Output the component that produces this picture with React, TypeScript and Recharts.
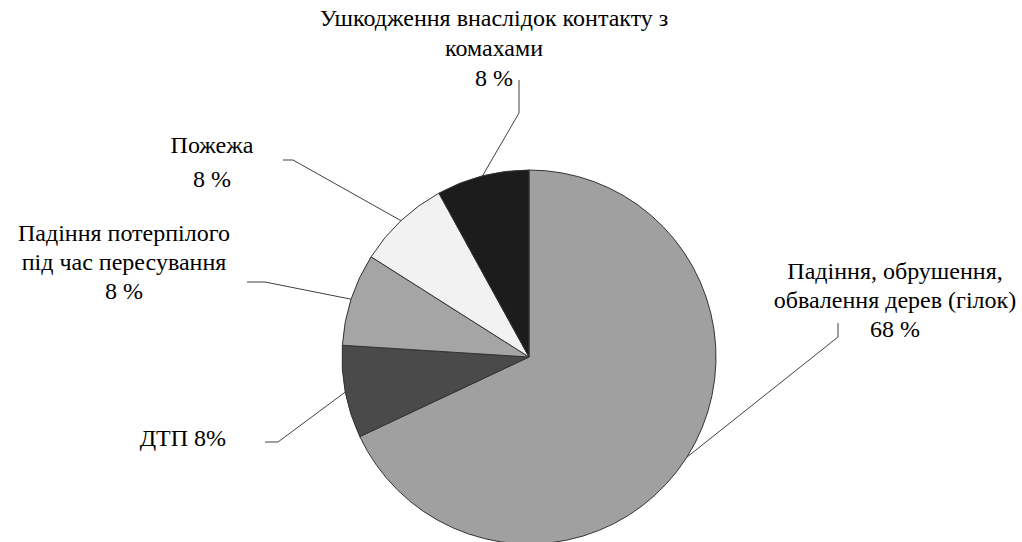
import React from 'react';
import { PieChart, Pie, Cell } from 'recharts';

// categories, in drawing order (clockwise from 12 o'clock)
const categories = [
  'Падіння, обрушення, обвалення дерев (гілок)',
  'ДТП',
  'Падіння потерпілого під час пересування',
  'Пожежа',
  'Ушкодження внаслідок контакту з комахами',
];
const shares = [68, 8, 8, 8, 8];
const labelTexts = [
  ['Падіння, обрушення,', 'обвалення дерев (гілок)', '68 %'],
  ['ДТП 8%'],
  ['Падіння потерпілого', 'під час пересування', '8 %'],
  ['Пожежа', '8 %'],
  ['Ушкодження внаслідок контакту з', 'комахами', '8 %'],
];

const sliceColors = ['#a0a0a0', '#4a4a4a', '#a5a5a5', '#f2f2f2', '#1c1c1c'];

// leader line elbows and text placement, relative to the pie centre
const labelLayout = [
  { elbow: [309, -20], end: [309, -34], tx: 366, ty: -78, gap: 29, anchor: 'middle' },
  { elbow: [-251, 85], end: [-264, 85], tx: -303, ty: 89, gap: 0, anchor: 'end' },
  { elbow: [-264, -75], end: [-282, -75], tx: -405, ty: -116, gap: 29, anchor: 'middle' },
  { elbow: [-236, -197], end: [-246, -197], tx: -317, ty: -204, gap: 34, anchor: 'middle' },
  { elbow: [-10, -244], end: [-10, -277], tx: -35, ty: -331, gap: 30, anchor: 'middle' },
];

const data = categories.map((name, i) => ({ name, value: shares[i] }));

const RAD = Math.PI / 180;
const labelCss =
  '.pie-lbl{font-family:"Liberation Serif","Times New Roman",Tinos,serif !important;font-size:24px !important;}';

const renderLabel = (props: any) => {
  const { cx, cy, midAngle, outerRadius, index } = props;
  const ax = cx + outerRadius * Math.cos(-midAngle * RAD);
  const ay = cy + outerRadius * Math.sin(-midAngle * RAD);
  const l = labelLayout[index];
  const pts = `${ax},${ay} ${cx + l.elbow[0]},${cy + l.elbow[1]} ${cx + l.end[0]},${cy + l.end[1]}`;
  return (
    <g key={`lbl-${index}`}>
      <polyline points={pts} fill="none" stroke="#404040" strokeWidth={1} />
      {labelTexts[index].map((t, j) => (
        <text
          key={j}
          className="pie-lbl"
          x={cx + l.tx}
          y={cy + l.ty + j * l.gap}
          textAnchor={l.anchor}
          fontFamily="Liberation Serif"
          fontSize={24}
        >
          {t}
        </text>
      ))}
    </g>
  );
};

export default function App() {
  return (
    <div style={{ position: 'absolute', left: 0, top: 0, width: 1022, height: 542, background: '#fff' }}>
      <style>{labelCss}</style>
      <PieChart width={1022} height={542} margin={{ top: 0, right: 0, bottom: 0, left: 0 }}>
        <Pie
          data={data}
          dataKey="value"
          nameKey="name"
          cx={529}
          cy={357}
          outerRadius={187}
          startAngle={90}
          endAngle={-270}
          stroke="#333"
          strokeWidth={1}
          label={renderLabel}
          labelLine={false}
          isAnimationActive={false}
        >
          {data.map((d, i) => (
            <Cell key={d.name} fill={sliceColors[i]} />
          ))}
        </Pie>
      </PieChart>
    </div>
  );
}
